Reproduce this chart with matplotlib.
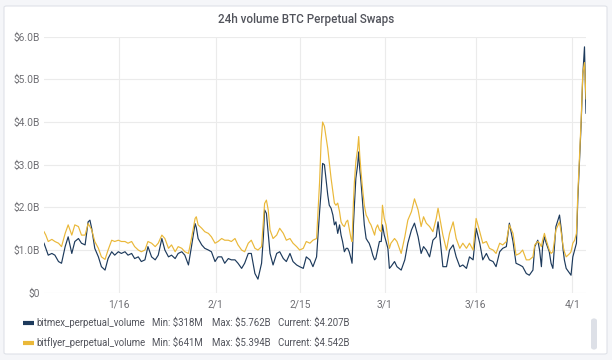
import numpy as np
import pandas as pd
import matplotlib
matplotlib.use("Agg")
import matplotlib.pyplot as plt
from matplotlib.patches import FancyBboxPatch
from matplotlib.lines import Line2D

plt.rcParams['font.family'] = ['Roboto', 'DejaVu Sans']

# days since 2019-01-01 (hand)
days = [2.6, 2.9, 3.3, 3.9, 4.4, 5.0, 5.5, 6.1, 6.6, 7.2, 7.7, 8.3, 8.8, 9.4, 9.9, 10.2, 10.5,
        11.0, 11.6, 12.1, 12.7, 13.2, 13.8, 14.3, 14.9, 15.4, 16.0, 16.5, 17.1, 17.6, 18.2,
        18.7, 19.3, 19.8, 20.4, 21.0, 21.5, 22.1, 22.6, 23.2, 23.7, 24.3, 24.8, 25.4, 25.9,
        26.5, 27.0, 27.6, 27.8, 28.1, 28.7, 29.2, 29.8, 30.3, 30.9, 31.4, 32.0, 32.5, 33.1, 33.6,
        34.2, 34.7, 35.3, 35.8, 36.4, 36.9, 37.5, 38.0, 38.6, 38.9, 39.1, 39.4, 39.7, 40.0,
        40.5, 41.1, 41.6, 42.2, 42.7, 43.3, 43.8, 44.4, 44.9, 45.5, 46.0, 46.6, 47.1, 47.7,
        48.2, 48.45, 48.7, 49.0, 49.3, 49.55, 49.8, 50.1, 50.4, 50.65, 50.9, 51.2, 51.5, 51.75,
        52.0, 52.3, 52.6, 52.85, 53.1, 53.4, 53.57, 53.8, 53.96, 54.2, 54.5, 54.67, 54.84,
        55.05, 55.3, 55.6, 55.9, 56.2, 56.4, 56.7, 57.0, 57.3, 57.5, 57.8, 58.1, 58.4, 58.6,
        58.9, 59.2, 59.5, 59.75, 60.0, 60.6, 61.0, 61.7, 62.3, 62.8, 63.4, 63.9, 64.5, 65.0, 65.4,
        65.85, 66.4, 66.95, 67.5, 67.8, 68.1, 68.6, 69.2, 69.7, 70.3, 70.8, 71.4, 71.9, 72.5,
        73.0, 73.6, 74.1, 74.7, 75.2, 75.8, 76.3, 76.9, 77.4, 78.0, 78.5, 79.1, 79.6, 80.2,
        80.7, 81.3, 81.8, 82.4, 82.9, 83.5, 83.8, 84.3, 84.6, 84.9, 85.1, 85.4, 85.7, 86.2,
        86.5, 86.8, 87.3, 87.9, 88.2, 88.5, 88.7, 89.0, 89.6, 89.8, 90.1, 90.4, 90.7, 90.92,
        91.2, 91.48, 91.75, 92.03, 92.28]

# 24h volume in billions USD
bitmex = [1.16, 1.04, 0.88, 0.92, 0.88, 0.73, 0.69, 1.08, 1.31, 0.92, 1.20, 1.27, 1.16, 1.12, 1.66, 1.70, 1.50,
          1.04, 0.84, 0.61, 0.53, 0.80, 0.96, 0.88, 0.96, 0.92, 0.96, 0.88, 0.92, 0.80, 0.84,
          0.73, 0.77, 1.08, 0.84, 0.77, 0.88, 1.27, 1.00, 0.84, 0.88, 0.80, 0.92, 0.96, 0.88,
          0.65, 1.08, 1.62, 1.53, 1.27, 1.12, 1.04, 1.00, 0.96, 0.73, 0.84, 0.84, 0.69, 0.80, 0.77,
          0.77, 0.69, 0.57, 0.69, 0.92, 0.92, 0.45, 0.318, 0.69, 1.31, 1.94, 1.86, 1.39, 0.92,
          0.65, 0.92, 0.96, 0.80, 0.73, 0.92, 0.73, 0.65, 0.61, 0.57, 0.84, 0.77, 0.61, 0.84,
          1.90, 2.37, 3.03, 3.00, 2.60, 2.29, 2.05, 1.98, 1.82, 1.59, 1.66, 1.39, 1.59, 1.35,
          1.20, 0.96, 1.04, 1.04, 0.96, 0.80, 0.69, 1.59, 2.05, 2.68, 3.00, 3.30, 2.91,
          2.60, 2.13, 1.59, 1.27, 1.20, 1.16, 1.04, 0.88, 0.77, 0.80, 1.00, 1.20, 1.20, 1.59,
          1.35, 1.20, 1.04, 0.57, 0.61, 0.73, 0.61, 0.53, 0.77, 1.16, 1.47, 1.63, 1.31, 0.92, 1.08,
          1.00, 0.84, 1.23, 1.31, 1.66, 1.31, 0.61, 0.61, 1.00, 1.12, 0.84, 0.61, 0.65, 0.57,
          0.84, 0.77, 1.51, 1.16, 0.77, 0.92, 0.77, 0.73, 0.61, 0.96, 1.04, 1.08, 1.63, 1.20,
          0.69, 0.65, 0.61, 0.45, 0.41, 0.53, 1.08, 1.23, 1.00, 0.61, 1.08, 1.31, 1.16, 0.96,
          0.69, 0.57, 1.55, 1.82, 1.47, 1.00, 0.77, 0.57, 0.45, 0.41, 0.84, 1.00, 1.16, 2.17,
          3.10, 3.97, 5.10, 5.762, 4.207]

bitflyer = [1.43, 1.35, 1.20, 1.25, 1.20, 1.16, 1.08, 1.39, 1.59, 1.35, 1.59, 1.55, 1.35, 1.35, 1.62, 1.55, 1.47,
            1.20, 1.04, 0.84, 0.78, 1.00, 1.23, 1.20, 1.23, 1.20, 1.20, 1.16, 1.20, 1.08, 1.00,
            0.96, 1.00, 1.20, 1.16, 1.08, 1.16, 1.35, 1.27, 1.04, 1.12, 0.96, 1.08, 1.04, 0.96,
            0.92, 1.27, 1.74, 1.78, 1.59, 1.51, 1.43, 1.39, 1.31, 1.16, 1.20, 1.27, 1.23, 1.23, 1.20,
            1.27, 1.12, 1.00, 0.96, 1.16, 1.23, 1.04, 1.00, 1.08, 1.70, 2.09, 2.17, 1.94, 1.47,
            1.27, 1.35, 1.51, 1.39, 1.23, 1.27, 1.16, 1.08, 1.00, 1.04, 1.20, 1.16, 1.23, 1.27,
            2.60, 3.54, 4.00, 3.90, 3.62, 3.38, 3.07, 2.68, 2.37, 2.10, 2.05, 2.10, 1.90, 1.66,
            1.59, 1.55, 1.66, 1.70, 1.50, 1.27, 1.20, 2.13, 2.60, 3.07, 3.38, 3.66, 3.23,
            2.84, 2.45, 2.05, 1.82, 1.74, 1.66, 1.59, 1.47, 1.35, 1.50, 1.59, 1.47, 1.43, 2.05,
            1.74, 1.59, 1.27, 1.04, 1.16, 1.27, 1.20, 0.92, 1.31, 1.70, 1.90, 2.20, 1.94, 1.55, 1.78,
            1.63, 1.55, 1.43, 1.74, 1.98, 1.74, 1.35, 1.00, 1.39, 1.66, 1.27, 1.04, 1.16, 1.04,
            1.16, 1.00, 1.74, 1.43, 1.16, 1.20, 1.04, 1.00, 0.92, 1.16, 1.12, 1.20, 1.59, 1.39,
            0.88, 0.92, 1.00, 0.77, 0.77, 0.84, 1.12, 1.20, 1.16, 1.08, 1.23, 1.39, 1.23, 1.00,
            0.92, 0.96, 1.47, 1.66, 1.39, 1.08, 0.96, 0.84, 0.92, 0.96, 1.16, 1.23, 1.39, 2.30,
            3.20, 4.05, 5.15, 5.394, 4.542]

y_labels = ['$0', '$1.0B', '$2.0B', '$3.0B', '$4.0B', '$5.0B', '$6.0B']
x_tick_dates = ['2019-01-16', '2019-02-01', '2019-02-15', '2019-03-01', '2019-03-16', '2019-04-01']
x_tick_labels = ['1/16', '2/1', '2/15', '3/1', '3/16', '4/1']

legend_rows = [
    ('bitmex_perpetual_volume', 'Min: $318M', 'Max: $5.762B', 'Current: $4.207B'),
    ('bitflyer_perpetual_volume', 'Min: $641M', 'Max: $5.394B', 'Current: $4.542B'),
]

blue = '#1d3a5c'
yellow = '#eab839'
text_col = '#52545c'
tick_col = '#6f6f74'

W, H = 612, 360
t = pd.Timestamp('2019-01-01') + pd.to_timedelta(days, unit='D')

fig = plt.figure(figsize=(W / 100, H / 100), dpi=100)
fig.patch.set_facecolor('#f5f6f9')

# white panel
panel = FancyBboxPatch((4 / W, 1 - 354 / H), 603 / W, 348 / H,
                       boxstyle='round,pad=0,rounding_size=0.004',
                       transform=fig.transFigure, facecolor='white',
                       edgecolor='#dfe2e8', linewidth=0.8, zorder=-10)
fig.patches.append(panel)

fig.text(0.5, 1 - 20 / H, '24h volume BTC Perpetual Swaps', ha='center', va='center',
         fontsize=8.4, color=text_col, fontweight='medium')

ax = fig.add_axes([44 / W, 1 - 292.7 / H, (586 - 44) / W, (292.7 - 36.7) / H])
ax.set_facecolor('none')
ax.plot(t, bitmex, color=blue, lw=0.85, zorder=3)
ax.plot(t, bitflyer, color=yellow, lw=0.85, zorder=4)

ax.set_ylim(0, 6)
ax.set_xlim(t[0], t[-1])
ax.set_yticks(range(7))
ax.set_yticklabels(y_labels)
ax.set_xticks(pd.to_datetime(x_tick_dates))
ax.set_xticklabels(x_tick_labels)
ax.tick_params(length=0, colors=tick_col, labelsize=7.4)
ax.tick_params(axis='y', pad=3)
ax.tick_params(axis='x', pad=5)
for s in ax.spines.values():
    s.set_visible(False)
ax.grid(True, color='#ebebeb', lw=0.8, zorder=0)
ax.set_axisbelow(True)

# legend
row_y = [323, 343]
col_x = [36, 152, 212, 278]
for (name, mn, mx, cur), ry, c in zip(legend_rows, row_y, [blue, yellow]):
    fig.add_artist(Line2D([23 / W, 34 / W], [1 - ry / H] * 2, color=c, lw=3,
                          solid_capstyle='butt', transform=fig.transFigure))
    for xx, s in zip(col_x, [name, mn, mx, cur]):
        fig.text(xx / W, 1 - ry / H, s, ha='left', va='center', fontsize=6.9, color=text_col)

# legend scrollbar
sb = FancyBboxPatch((591 / W, 1 - 350 / H), 6 / W, 32 / H,
                    boxstyle='round,pad=0,rounding_size=0.008',
                    transform=fig.transFigure, facecolor='#dde0e7', edgecolor='none')
fig.patches.append(sb)

fig.savefig('out.png', dpi=100)
